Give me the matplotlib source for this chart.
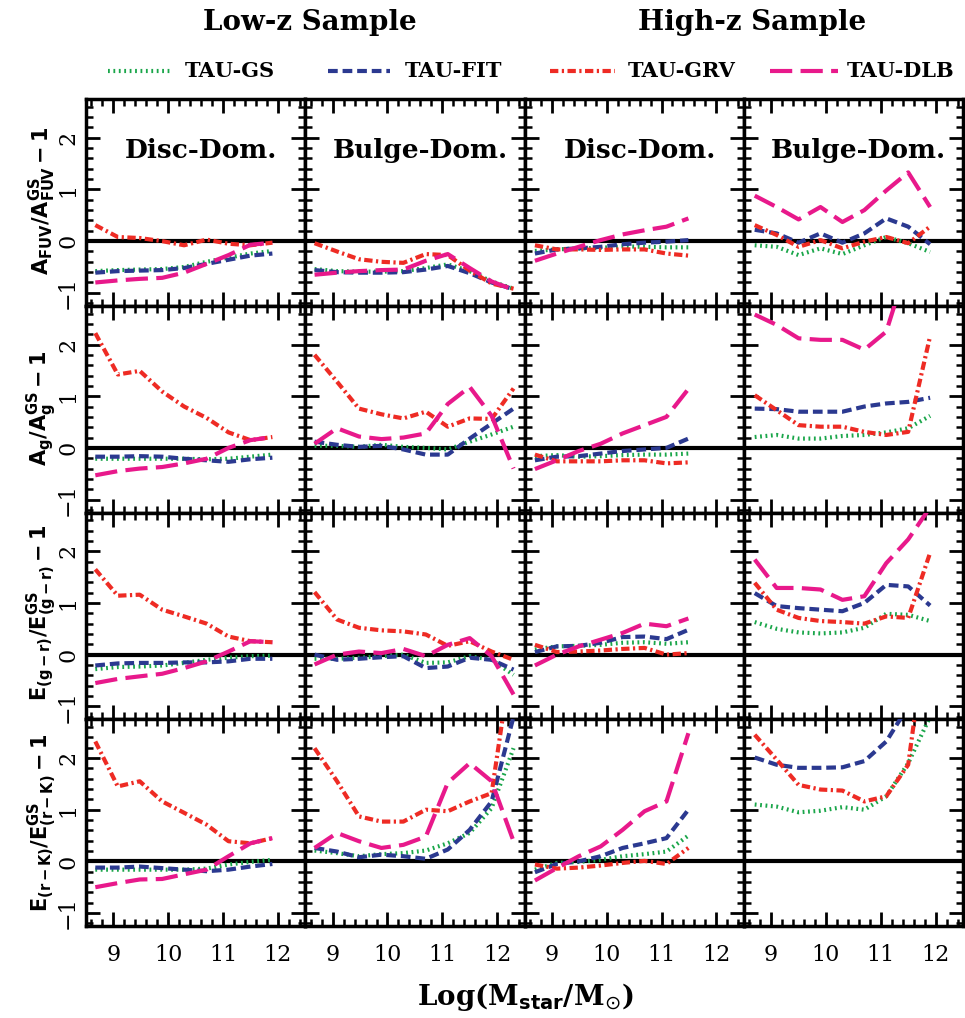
import matplotlib
matplotlib.use('Agg')
import matplotlib.pyplot as plt
from matplotlib.lines import Line2D
from matplotlib.ticker import MultipleLocator

plt.rcParams['lines.scale_dashes'] = False
plt.rcParams['font.family'] = ['DejaVu Serif']
plt.rcParams['mathtext.fontset'] = 'dejavusans'

# ---------------- data ----------------
series_names = ['TAU-GS', 'TAU-FIT', 'TAU-GRV', 'TAU-DLB']
column_titles = ['Disc-Dom.', 'Bulge-Dom.', 'Disc-Dom.', 'Bulge-Dom.']
sample_titles = ['Low-z Sample', 'High-z Sample']
row_labels = [r'$\mathbf{A_{FUV}/A_{FUV}^{GS}-1}$',
              r'$\mathbf{A_{g}/A_{g}^{GS}-1}$',
              r'$\mathbf{E_{(g-r)}/E_{(g-r)}^{GS}-1}$',
              r'$\mathbf{E_{(r-K)}/E_{(r-K)}^{GS}-1}$']
x_ticks = [9, 10, 11, 12]
y_ticks = [-1, 0, 1, 2]

x_lowz_disc = [8.67, 9.08, 9.48, 9.89, 10.29, 10.70, 11.10, 11.50, 11.90]
x_lowz_bulge = [8.67, 9.08, 9.48, 9.89, 10.29, 10.70, 11.10, 11.50, 11.90, 12.30]
x_highz_disc = [8.69, 9.09, 9.49, 9.89, 10.29, 10.69, 11.09, 11.49]
x_highz_bulge = [8.70, 9.10, 9.50, 9.90, 10.30, 10.70, 11.10, 11.50, 11.90]

# Row 1: A_FUV
fuv_ld_gs = [-0.58, -0.56, -0.55, -0.54, -0.50, -0.40, -0.32, -0.24, -0.19]
fuv_ld_fit = [-0.61, -0.58, -0.57, -0.56, -0.52, -0.44, -0.36, -0.28, -0.24]
fuv_ld_grv = [0.31, 0.08, 0.06, 0.00, -0.08, 0.03, -0.05, -0.08, -0.03]
fuv_ld_dlb = [-0.80, -0.76, -0.73, -0.71, -0.61, -0.44, -0.27, -0.07, -0.03]

fuv_lb_gs = [-0.54, -0.58, -0.59, -0.59, -0.58, -0.52, -0.45, -0.58, -0.78, -0.92]
fuv_lb_fit = [-0.56, -0.60, -0.61, -0.61, -0.60, -0.55, -0.48, -0.62, -0.80, -0.93]
fuv_lb_grv = [-0.04, -0.20, -0.35, -0.40, -0.42, -0.25, -0.27, -0.57, -0.82, -0.92]
fuv_lb_dlb = [-0.65, -0.61, -0.58, -0.56, -0.55, -0.38, -0.25, -0.52, -0.78, -0.94]

fuv_hd_gs = [-0.19, -0.16, -0.14, -0.13, -0.10, -0.11, -0.12, -0.12]
fuv_hd_fit = [-0.24, -0.16, -0.14, -0.11, -0.06, -0.03, -0.01, 0.02]
fuv_hd_grv = [-0.08, -0.16, -0.16, -0.17, -0.16, -0.16, -0.24, -0.28]
fuv_hd_dlb = [-0.38, -0.24, -0.11, 0.02, 0.13, 0.21, 0.28, 0.44]

fuv_hb_gs = [-0.08, -0.11, -0.27, -0.14, -0.25, -0.08, 0.08, -0.04, -0.21]
fuv_hb_fit = [0.22, 0.15, -0.03, 0.15, -0.03, 0.15, 0.44, 0.28, -0.06]
fuv_hb_grv = [0.31, 0.12, -0.11, 0.02, -0.14, -0.01, 0.08, -0.04, 0.28]
fuv_hb_dlb = [0.88, 0.66, 0.42, 0.66, 0.37, 0.60, 0.98, 1.33, 0.66]

# Row 2: A_g
ag_ld_gs = [-0.21, -0.21, -0.21, -0.21, -0.21, -0.22, -0.21, -0.17, -0.13]
ag_ld_fit = [-0.17, -0.17, -0.16, -0.17, -0.21, -0.24, -0.27, -0.22, -0.19]
ag_ld_grv = [2.22, 1.42, 1.49, 1.09, 0.80, 0.58, 0.30, 0.15, 0.21]
ag_ld_dlb = [-0.53, -0.45, -0.40, -0.37, -0.30, -0.21, 0.00, 0.15, 0.21]

ag_lb_gs = [0.04, 0.04, 0.02, 0.06, 0.02, 0.00, -0.03, 0.12, 0.26, 0.41]
ag_lb_fit = [0.12, 0.06, 0.02, 0.04, -0.03, -0.13, -0.13, 0.18, 0.47, 0.76]
ag_lb_grv = [1.80, 1.28, 0.76, 0.65, 0.57, 0.70, 0.41, 0.57, 0.56, 1.15]
ag_lb_dlb = [0.08, 0.38, 0.22, 0.17, 0.20, 0.28, 0.85, 1.18, 0.62, -0.40]

ag_hd_gs = [-0.16, -0.14, -0.17, -0.16, -0.14, -0.13, -0.13, -0.11]
ag_hd_fit = [-0.24, -0.17, -0.16, -0.11, -0.06, -0.03, 0.00, 0.18]
ag_hd_grv = [-0.13, -0.26, -0.26, -0.26, -0.24, -0.24, -0.30, -0.28]
ag_hd_dlb = [-0.41, -0.24, -0.06, 0.08, 0.28, 0.44, 0.60, 1.14]

ag_hb_gs = [0.21, 0.25, 0.18, 0.18, 0.23, 0.25, 0.30, 0.38, 0.62]
ag_hb_fit = [0.76, 0.75, 0.70, 0.70, 0.70, 0.80, 0.86, 0.89, 0.97]
ag_hb_grv = [1.02, 0.73, 0.44, 0.41, 0.41, 0.31, 0.25, 0.31, 2.16]
ag_hb_dlb = [2.58, 2.38, 2.12, 2.09, 2.09, 1.90, 2.25, 3.60]

# Row 3: E(g-r)
egr_ld_gs = [-0.28, -0.24, -0.23, -0.21, -0.16, -0.10, -0.06, -0.03, -0.02]
egr_ld_fit = [-0.21, -0.17, -0.16, -0.16, -0.15, -0.15, -0.13, -0.08, -0.08]
egr_ld_grv = [1.65, 1.14, 1.16, 0.87, 0.74, 0.60, 0.35, 0.26, 0.24]
egr_ld_dlb = [-0.55, -0.47, -0.42, -0.37, -0.26, -0.13, 0.06, 0.26, 0.24]

egr_lb_gs = [-0.08, -0.08, -0.06, -0.03, 0.00, -0.16, -0.15, -0.03, -0.10, -0.39]
egr_lb_fit = [0.00, -0.10, -0.08, -0.05, -0.03, -0.26, -0.23, -0.06, -0.10, -0.29]
egr_lb_grv = [1.21, 0.68, 0.52, 0.47, 0.45, 0.39, 0.17, 0.26, 0.06, -0.10]
egr_lb_dlb = [-0.19, 0.00, 0.06, 0.03, 0.11, -0.03, 0.19, 0.32, -0.03, -0.77]

egr_hd_gs = [0.10, 0.16, 0.17, 0.19, 0.23, 0.24, 0.21, 0.24]
egr_hd_fit = [0.05, 0.16, 0.17, 0.23, 0.34, 0.35, 0.30, 0.48]
egr_hd_grv = [0.19, 0.05, 0.06, 0.08, 0.11, 0.13, 0.00, 0.03]
egr_hd_dlb = [-0.21, 0.00, 0.16, 0.29, 0.42, 0.60, 0.55, 0.70]

egr_hb_gs = [0.63, 0.50, 0.43, 0.41, 0.43, 0.52, 0.79, 0.77, 0.65]
egr_hb_fit = [1.19, 0.94, 0.90, 0.87, 0.84, 1.00, 1.35, 1.32, 0.95]
egr_hb_grv = [1.39, 0.87, 0.71, 0.65, 0.63, 0.60, 0.74, 0.71, 1.97]
egr_hb_dlb = [1.84, 1.29, 1.29, 1.26, 1.06, 1.13, 1.77, 2.23, 2.85]

# Row 4: E(r-K)
erk_ld_gs = [-0.16, -0.16, -0.16, -0.16, -0.16, -0.14, -0.06, -0.01, 0.03]
erk_ld_fit = [-0.12, -0.12, -0.10, -0.13, -0.16, -0.19, -0.16, -0.10, -0.05]
erk_ld_grv = [2.32, 1.45, 1.55, 1.16, 0.94, 0.71, 0.39, 0.35, 0.45]
erk_ld_dlb = [-0.50, -0.42, -0.35, -0.34, -0.25, -0.16, 0.10, 0.35, 0.45]

erk_lb_gs = [0.21, 0.16, 0.10, 0.14, 0.16, 0.21, 0.35, 0.55, 1.03, 2.19]
erk_lb_fit = [0.26, 0.19, 0.08, 0.13, 0.10, 0.05, 0.23, 0.61, 1.16, 2.80]
erk_lb_grv = [2.19, 1.55, 0.87, 0.77, 0.77, 1.00, 0.97, 1.16, 1.32, 4.20]
erk_lb_dlb = [0.26, 0.55, 0.39, 0.26, 0.32, 0.48, 1.52, 1.90, 1.55, 0.39]

erk_hd_gs = [-0.16, -0.03, -0.01, 0.03, 0.10, 0.14, 0.19, 0.50]
erk_hd_fit = [-0.21, -0.05, 0.00, 0.10, 0.26, 0.35, 0.45, 1.00]
erk_hd_grv = [-0.06, -0.14, -0.12, -0.08, -0.03, 0.01, -0.05, 0.26]
erk_hd_dlb = [-0.37, -0.13, 0.10, 0.29, 0.61, 0.97, 1.16, 2.48]

erk_hb_gs = [1.10, 1.06, 0.95, 0.98, 1.05, 1.00, 1.26, 1.90, 2.80]
erk_hb_fit = [2.01, 1.87, 1.81, 1.81, 1.82, 1.94, 2.32, 3.00]
erk_hb_grv = [2.45, 1.97, 1.48, 1.39, 1.37, 1.16, 1.26, 1.87, 5.00]
erk_hb_dlb = []

# ---------------- assemble ----------------
col_x = [x_lowz_disc, x_lowz_bulge, x_highz_disc, x_highz_bulge]
panels = [
    [[fuv_ld_gs, fuv_ld_fit, fuv_ld_grv, fuv_ld_dlb],
     [fuv_lb_gs, fuv_lb_fit, fuv_lb_grv, fuv_lb_dlb],
     [fuv_hd_gs, fuv_hd_fit, fuv_hd_grv, fuv_hd_dlb],
     [fuv_hb_gs, fuv_hb_fit, fuv_hb_grv, fuv_hb_dlb]],
    [[ag_ld_gs, ag_ld_fit, ag_ld_grv, ag_ld_dlb],
     [ag_lb_gs, ag_lb_fit, ag_lb_grv, ag_lb_dlb],
     [ag_hd_gs, ag_hd_fit, ag_hd_grv, ag_hd_dlb],
     [ag_hb_gs, ag_hb_fit, ag_hb_grv, ag_hb_dlb]],
    [[egr_ld_gs, egr_ld_fit, egr_ld_grv, egr_ld_dlb],
     [egr_lb_gs, egr_lb_fit, egr_lb_grv, egr_lb_dlb],
     [egr_hd_gs, egr_hd_fit, egr_hd_grv, egr_hd_dlb],
     [egr_hb_gs, egr_hb_fit, egr_hb_grv, egr_hb_dlb]],
    [[erk_ld_gs, erk_ld_fit, erk_ld_grv, erk_ld_dlb],
     [erk_lb_gs, erk_lb_fit, erk_lb_grv, erk_lb_dlb],
     [erk_hd_gs, erk_hd_fit, erk_hd_grv, erk_hd_dlb],
     [erk_hb_gs, erk_hb_fit, erk_hb_grv, erk_hb_dlb]],
]

colors = ['#1aa64a', '#2b3990', '#ee2b24', '#e8198b']
dashes = [(1.3, 2.6), (7.0, 3.5), (6.0, 2.5, 1.6, 2.5), (16.0, 6.0)]
LW = 3.0

W, H = 965, 1018
fig, axes = plt.subplots(4, 4, sharex=True, sharey=True, figsize=(W / 100, H / 100), dpi=100)
fig.subplots_adjust(left=86 / W, right=963 / W, top=1 - 99 / H, bottom=1 - 926 / H,
                    wspace=0, hspace=0)

for r in range(4):
    for c in range(4):
        ax = axes[r, c]
        ax.axhline(0, color='black', lw=3.0, zorder=1)
        xs = col_x[c]
        for k in range(4):
            ys = panels[r][c][k]
            if len(ys) == 0:
                continue
            ax.plot(xs[:len(ys)], ys, color=colors[k], lw=LW, dashes=dashes[k],
                    zorder=2 + k, solid_capstyle='butt', dash_capstyle='butt')
        ax.set_xlim(8.5, 12.5)
        ax.set_ylim(-1.25, 2.75)
        ax.xaxis.set_major_locator(MultipleLocator(1))
        ax.xaxis.set_minor_locator(MultipleLocator(0.2))
        ax.yaxis.set_major_locator(MultipleLocator(1))
        ax.yaxis.set_minor_locator(MultipleLocator(0.2))
        ax.tick_params(which='both', direction='in', top=True, right=True)
        ax.tick_params(which='major', length=10, width=2.0)
        ax.tick_params(which='minor', length=5, width=1.8)
        ax.tick_params(axis='x', labelsize=16, pad=13)
        ax.tick_params(axis='y', labelsize=16, pad=5, labelrotation=90)
        for s in ax.spines.values():
            s.set_linewidth(2.5)
        if r == 0:
            ax.text(10.6, 1.75, column_titles[c], ha='center', va='center',
                    fontsize=19, fontweight='bold')

for ax in axes[:, 0]:
    for lab in ax.get_yticklabels():
        lab.set_va('center')

ax0 = axes[0, 0]
ax0.set_xticks(x_ticks)
ax0.set_yticks(y_ticks)

# row labels
row_centers = [201, 408, 613, 823]
for lab, yc in zip(row_labels, row_centers):
    fig.text(42 / W, 1 - yc / H, lab, rotation=90, ha='center', va='center', fontsize=15)

# sample titles
fig.text(310 / W, 1 - 22 / H, sample_titles[0], ha='center', va='center',
         fontsize=20, fontweight='bold')
fig.text(752 / W, 1 - 22 / H, sample_titles[1], ha='center', va='center',
         fontsize=20, fontweight='bold')

# x label
fig.text(525 / W, 1 - 997 / H, r'Log(M$_{\mathbf{star}}$/M$_{\odot}$)', ha='center',
         va='center', fontsize=20, fontweight='bold')

# legend (manual)
leg_y = 1 - 71 / H
line_px = [(108, 172), (328, 390), (550, 615), (770, 838)]
text_px = [185, 405, 628, 847]
for k in range(4):
    x0, x1 = line_px[k]
    fig.add_artist(Line2D([x0 / W, x1 / W], [leg_y, leg_y], transform=fig.transFigure,
                          color=colors[k], lw=LW, dashes=dashes[k]))
    fig.text(text_px[k] / W, leg_y, series_names[k], ha='left', va='center',
             fontsize=15, fontweight='bold')

fig.savefig('out.png', dpi=100)
